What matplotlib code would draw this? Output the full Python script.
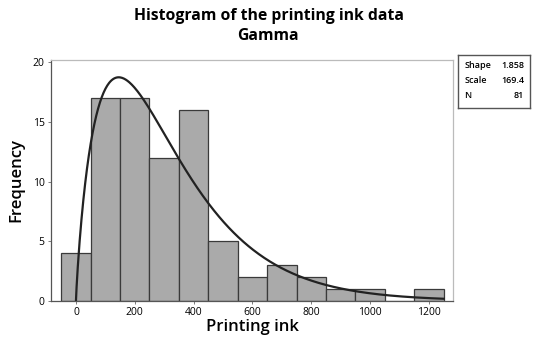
import numpy as np
import matplotlib
matplotlib.use("Agg")
import matplotlib.pyplot as plt
from math import gamma as gamma_fn

# Data
bin_centers = [0, 100, 200, 300, 400, 500, 600, 700, 800, 900, 1000, 1100, 1200]
counts = [4, 17, 17, 12, 16, 5, 2, 3, 2, 1, 1, 0, 1]
bin_width = 100
shape = 1.858
scale = 169.4
n_obs = 81
xticks = [0, 200, 400, 600, 800, 1000, 1200]
yticks = [0, 5, 10, 15, 20]

plt.rcParams['font.family'] = ['Open Sans', 'DejaVu Sans']

fig = plt.figure(figsize=(5.6, 3.45), dpi=100)
ax = fig.add_axes([0.091, 0.128, 0.718, 0.698])

ax.bar(bin_centers, counts, width=bin_width, color='#aaaaaa', edgecolor='#3a3a3a', linewidth=0.9)

xs = np.linspace(0.01, 1250, 600)
pdf = xs ** (shape - 1) * np.exp(-xs / scale) / (gamma_fn(shape) * scale ** shape)
ax.plot(xs, pdf * n_obs * bin_width, color='#222222', linewidth=1.6)

ax.set_xlim(-85, 1282)
ax.set_ylim(0, 20.2)
ax.set_xticks(xticks)
ax.set_yticks(yticks)
ax.tick_params(labelsize=7.5, length=2.5, width=0.6, color='#666666', pad=2)
for s in ['top', 'right']:
    ax.spines[s].set_color('#bbbbbb')
for s in ['left', 'bottom']:
    ax.spines[s].set_color('#555555')
for s in ax.spines.values():
    s.set_linewidth(0.9)

ax.set_xlabel('Printing ink', fontsize=12, fontweight='semibold', labelpad=1)
ax.set_ylabel('Frequency', fontsize=12, fontweight='semibold', labelpad=6)

fig.text(0.48, 0.955, 'Histogram of the printing ink data', ha='center', va='center',
         fontsize=11.3, fontweight='bold')
fig.text(0.478, 0.895, 'Gamma', ha='center', va='center', fontsize=11.3, fontweight='bold')

# Stats box
box = fig.add_axes([0.818, 0.687, 0.128, 0.154])
box.set_xticks([]); box.set_yticks([])
for s in box.spines.values():
    s.set_color('#555555'); s.set_linewidth(1.0)
labels = ['Shape', 'Scale', 'N']
vals = ['%.3f' % shape, '%.1f' % scale, '%d' % n_obs]
for i, (l, v) in enumerate(zip(labels, vals)):
    y = 0.8 - i * 0.28
    box.text(0.09, y, l, fontsize=6.5, fontweight='semibold', va='center', ha='left')
    box.text(0.92, y, v, fontsize=6.5, fontweight='semibold', va='center', ha='right')

fig.savefig('out.png', dpi=100)
